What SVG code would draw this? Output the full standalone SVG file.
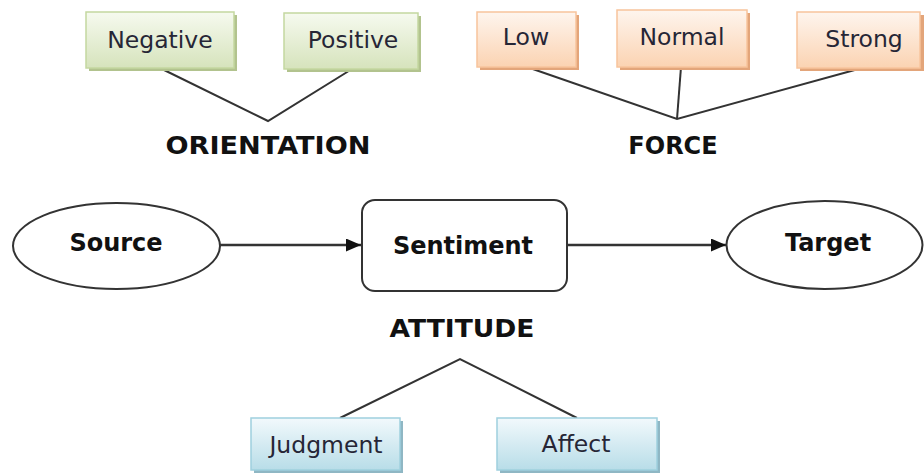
<svg xmlns="http://www.w3.org/2000/svg" width="924" height="475" viewBox="0 0 924 475">
  <defs>
    <linearGradient id="gGreen" x1="0" y1="0" x2="0" y2="1">
      <stop offset="0" stop-color="#f6faef"/>
      <stop offset="1" stop-color="#d6e3bc"/>
    </linearGradient>
    <linearGradient id="gOrange" x1="0" y1="0" x2="0" y2="1">
      <stop offset="0" stop-color="#fef5ee"/>
      <stop offset="1" stop-color="#fbd3b2"/>
    </linearGradient>
    <linearGradient id="gBlue" x1="0" y1="0" x2="0" y2="1">
      <stop offset="0" stop-color="#f2f9fc"/>
      <stop offset="1" stop-color="#b8dde8"/>
    </linearGradient>
    <marker id="arrow" viewBox="0 0 15 13" refX="15" refY="6.5" markerWidth="15" markerHeight="13" markerUnits="userSpaceOnUse" orient="auto">
      <path d="M0,0 L15,6.5 L0,13 Z" fill="#111"/>
    </marker>
  </defs>
  <style>
    .lbl { font-family: "DejaVu Sans", Verdana, sans-serif; font-size: 23.5px; fill: #262636; text-anchor: middle; dominant-baseline: central; }
    .bold { font-family: "DejaVu Sans", Verdana, sans-serif; font-size: 24px; font-weight: bold; fill: #111; text-anchor: middle; dominant-baseline: central; }
    .green rect.face { fill: url(#gGreen); stroke: #c4d7a0; stroke-width: 1.5; }
    .green rect.shadow { fill: #b2c38e; }
    .orange rect.face { fill: url(#gOrange); stroke: #f8c49c; stroke-width: 1.5; }
    .orange rect.shadow { fill: #e3a57a; }
    .blue rect.face { fill: url(#gBlue); stroke: #9fd0de; stroke-width: 1.5; }
    .blue rect.shadow { fill: #8fb7c4; }
    .shape { fill: #fff; stroke: #333; stroke-width: 2; }
    .link { stroke: #333; stroke-width: 2; fill: none; }
    .arrowline { stroke: #333; stroke-width: 2.5; fill: none; marker-end: url(#arrow); }
  </style>

  <rect width="924" height="475" fill="#fff"/>

  <!-- connectors -->
  <g id="connectors">
    <path class="link" d="M160,68 L268,121 L352,69"/>
    <path class="link" d="M527,67 L677,119 L862,68"/>
    <path class="link" d="M681,67 L677,119"/>
    <path class="link" d="M340,418 L460,359 L577,418"/>
    <line class="arrowline" x1="220" y1="245" x2="361" y2="245"/>
    <line class="arrowline" x1="567" y1="245" x2="726" y2="245"/>
  </g>

  <!-- orientation values -->
  <g id="negative" class="green">
    <rect class="shadow" x="89" y="15" width="148" height="56"/>
    <rect class="face" x="86" y="12" width="148" height="56"/>
    <text class="lbl" x="160" y="40">Negative</text>
  </g>
  <g id="positive" class="green">
    <rect class="shadow" x="287" y="16" width="134" height="56"/>
    <rect class="face" x="284" y="13" width="134" height="56"/>
    <text class="lbl" x="353" y="40">Positive</text>
  </g>

  <!-- force values -->
  <g id="low" class="orange">
    <rect class="shadow" x="480" y="15" width="99" height="55"/>
    <rect class="face" x="477" y="12" width="99" height="55"/>
    <text class="lbl" x="526" y="37">Low</text>
  </g>
  <g id="normal" class="orange">
    <rect class="shadow" x="620" y="13" width="130" height="57"/>
    <rect class="face" x="617" y="10" width="130" height="57"/>
    <text class="lbl" x="682" y="37">Normal</text>
  </g>
  <g id="strong" class="orange">
    <rect class="shadow" x="800" y="15" width="124" height="56"/>
    <rect class="face" x="797" y="12" width="123" height="56"/>
    <text class="lbl" x="864" y="39">Strong</text>
  </g>

  <!-- category labels -->
  <g id="orientation">
    <text class="bold" x="268" y="146" textLength="205" lengthAdjust="spacingAndGlyphs">ORIENTATION</text>
  </g>
  <g id="force">
    <text class="bold" x="673" y="146">FORCE</text>
  </g>
  <g id="attitude">
    <text class="bold" x="462" y="329" textLength="145" lengthAdjust="spacingAndGlyphs">ATTITUDE</text>
  </g>

  <!-- main chain -->
  <g id="source">
    <ellipse class="shape" cx="116.5" cy="246" rx="103.5" ry="43"/>
    <text class="bold" x="116" y="243">Source</text>
  </g>
  <g id="sentiment">
    <rect class="shape" x="362" y="200" width="205" height="91" rx="13" ry="13"/>
    <text class="bold" x="463" y="246">Sentiment</text>
  </g>
  <g id="target">
    <ellipse class="shape" cx="824.5" cy="245" rx="98" ry="44"/>
    <text class="bold" x="828" y="243">Target</text>
  </g>

  <!-- attitude values -->
  <g id="judgment" class="blue">
    <rect class="shadow" x="254" y="421" width="149" height="52"/>
    <rect class="face" x="251" y="418" width="149" height="52"/>
    <text class="lbl" x="326" y="445">Judgment</text>
  </g>
  <g id="affect" class="blue">
    <rect class="shadow" x="500" y="421" width="160" height="52"/>
    <rect class="face" x="497" y="418" width="160" height="52"/>
    <text class="lbl" x="576" y="444">Affect</text>
  </g>
</svg>
